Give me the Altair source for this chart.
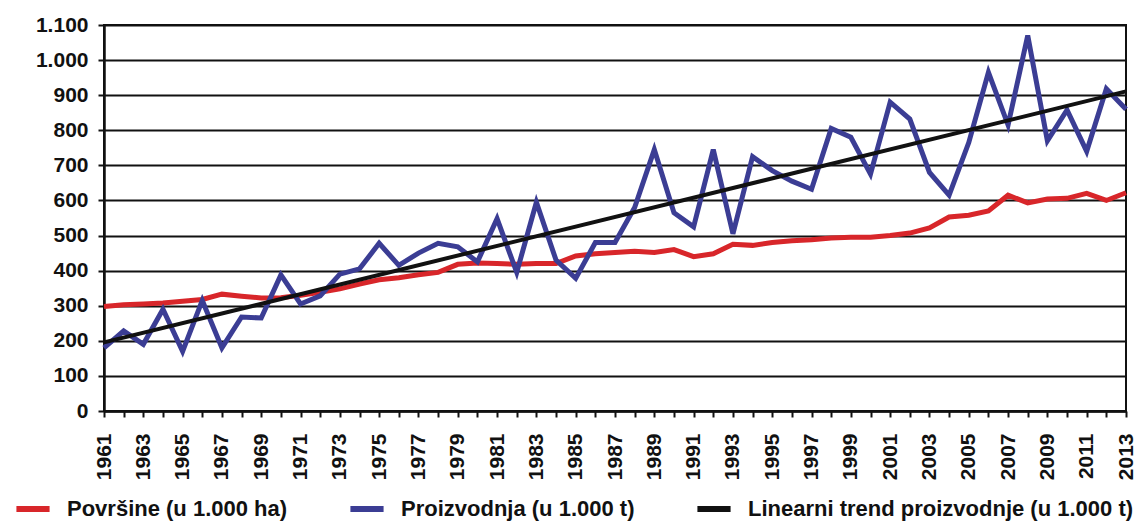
import altair as alt
import pandas as pd

years = list(range(1961, 2014))

povrsine = [298, 303, 305, 308, 313, 318, 333, 327, 322, 323,
            330, 338, 348, 362, 374, 380, 388, 395, 418, 422,
            420, 418, 420, 420, 442, 448, 452, 455, 452, 460,
            440, 448, 475, 472, 480, 485, 488, 493, 495, 495,
            500, 507, 522, 553, 558, 570, 615, 593, 604, 606,
            620, 600, 622]

proizvodnja = [180, 228, 190, 290, 170, 315, 180, 268, 265, 388,
               305, 328, 390, 405, 478, 415, 450, 478, 468, 425,
               548, 395, 595, 430, 378, 480, 480, 580, 745, 565,
               525, 745, 505, 725, 685, 655, 632, 805, 780, 675,
               880, 832, 680, 615, 765, 965, 815, 1070, 770, 858,
               740, 918, 860]

y_ticks = list(range(0, 1101, 100))

S_POV = "Površine (u 1.000 ha)"
S_PRO = "Proizvodnja (u 1.000 t)"
S_TREND = "Linearni trend proizvodnje (u 1.000 t)"
series_names = [S_POV, S_PRO, S_TREND]
series_colors = ["#d8262a", "#3b3d94", "#111111"]

n = len(years)
df = pd.DataFrame({
    "Godina": years + years,
    "Vrijednost": povrsine + proizvodnja,
    "Serija": [S_POV] * n + [S_PRO] * n,
})

FONT = "Liberation Sans"

x_enc = alt.X(
    "Godina:Q",
    scale=alt.Scale(domain=[years[0], years[-1]], nice=False, zero=False),
    axis=alt.Axis(
        values=years, format="d",
        labelExpr="datum.value % 2 == 1 ? datum.label : ''",
        labelAngle=270, labelOverlap=False, labelFlush=False, labelBound=False,
        grid=False, title=None, tickSize=6, tickWidth=2, labelPadding=16,
    ),
)
y_enc = alt.Y(
    "Vrijednost:Q",
    scale=alt.Scale(domain=[0, 1100], nice=False),
    axis=alt.Axis(
        values=y_ticks,
        labelExpr="replace(format(datum.value, ','), ',', '.')",
        title=None, grid=True, tickSize=6, tickWidth=2, labelPadding=10,
    ),
)
color_enc = alt.Color(
    "Serija:N",
    scale=alt.Scale(domain=series_names, range=series_colors),
    legend=alt.Legend(
        orient="none", legendX=-91, legendY=464, direction="horizontal",
        columns=3, title=None, symbolType="stroke", symbolSize=1100,
        symbolStrokeWidth=6, labelFont=FONT, labelFontSize=22,
        labelFontWeight="bold", labelColor="#111111", labelLimit=600,
        columnPadding=50, labelOffset=14, padding=0,
    ),
)

base = alt.Chart(df)

red = base.transform_filter(alt.datum.Serija == S_POV).mark_line(
    strokeWidth=5).encode(x=x_enc, y=y_enc, color=color_enc)
blue = base.transform_filter(alt.datum.Serija == S_PRO).mark_line(
    strokeWidth=5).encode(x=x_enc, y=y_enc, color=color_enc)
trend = (
    base.transform_filter(alt.datum.Serija == S_PRO)
    .transform_regression("Godina", "Vrijednost", method="linear")
    .transform_calculate(Serija=f"'{S_TREND}'")
    .mark_line(strokeWidth=4)
    .encode(x=x_enc, y=y_enc, color=color_enc)
)

chart = (
    alt.layer(red, blue, trend)
    .properties(
        width=1022, height=386,
        padding={"left": 96, "top": 17, "right": 11, "bottom": 112},
        autosize=alt.AutoSizeParams(type="none"),
        background="white",
    )
    .configure_view(stroke="#111111", strokeWidth=2)
    .configure_axis(
        labelFont=FONT, labelFontSize=21, labelFontWeight="bold",
        labelColor="#111111", domainColor="#111111", domainWidth=2.5,
        tickColor="#111111", gridColor="#111111", gridWidth=2, gridOpacity=1,
    )
)

chart.save("out.html", embed_options={"renderer": "svg", "actions": False})
